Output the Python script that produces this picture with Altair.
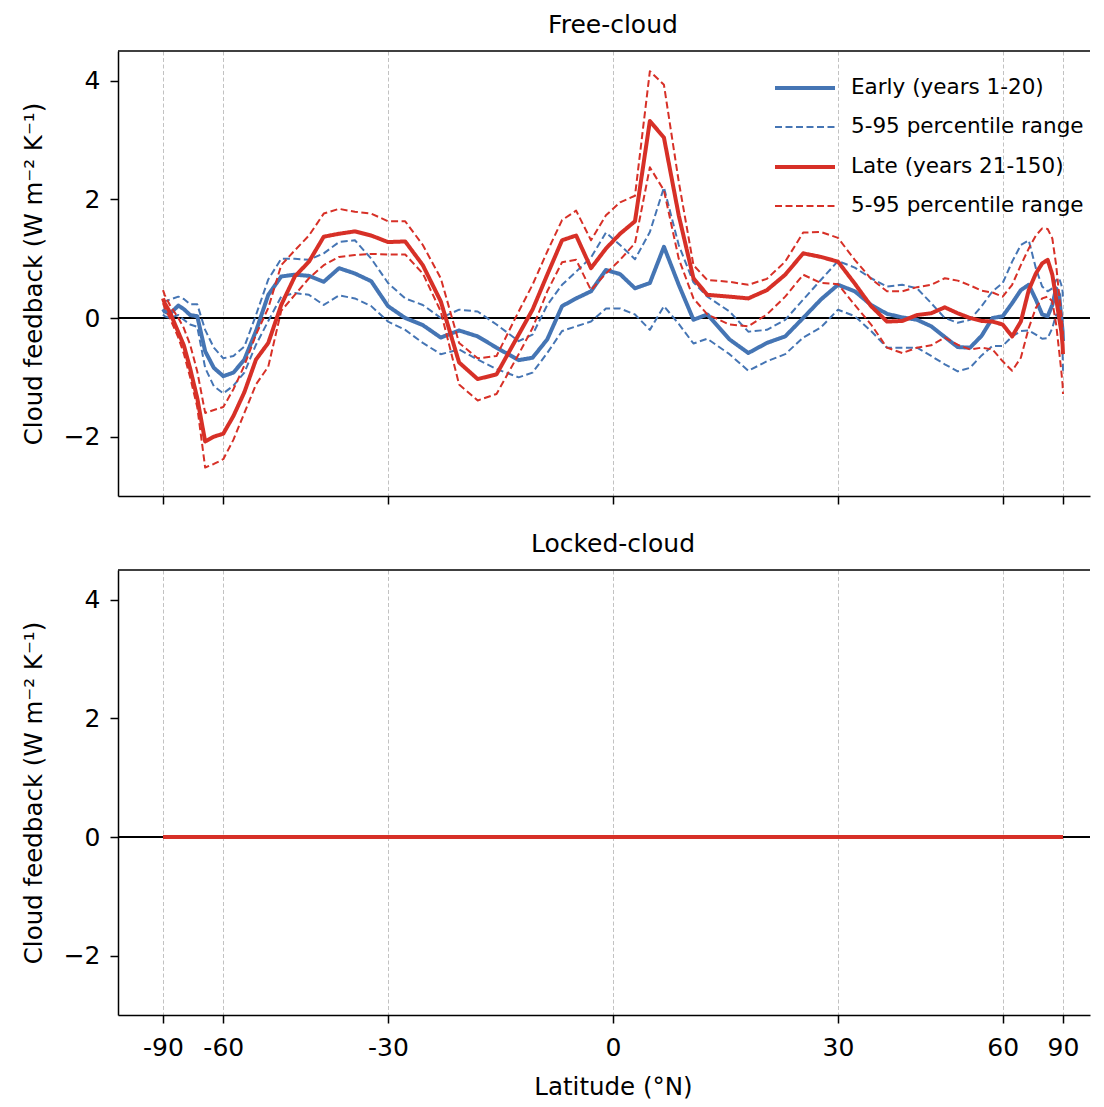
import altair as alt
import numpy as np
import pandas as pd

FONT = "DejaVu Sans"
BLUE = "#4575b4"
RED = "#d73027"

# latitude grid (degrees north)
lat = [-90, -85, -80, -75, -72.5, -70, -67.5, -65, -62.5, -60,
       -57.5, -55, -52.5, -50, -47.5, -45, -42.5, -40, -37.5, -35,
       -32.5, -30, -27.5, -25, -22.5, -20, -17.5, -15, -12.1, -10.3,
       -8.4, -6.5, -4.7, -2.8, -0.9, 0.9, 2.8, 4.7, 6.5, 8.4,
       10.3, 12.1, 15, 17.5, 20, 22.5, 25, 27.5, 30, 32.5,
       35, 37.5, 40, 42.5, 45, 47.5, 50, 52.5, 55, 57.5,
       60, 62.5, 65, 67.5, 70, 72.5, 75, 77.5, 80, 82.5,
       85, 87.5, 90]

# Free-cloud, early (years 1-20)
early_mean = [0.15, 0.11, 0.07, 0.21, 0.15, 0.05, 0.03, -0.56, -0.84, -0.98,
              -0.92, -0.70, -0.22, 0.39, 0.70, 0.73, 0.71, 0.61, 0.84, 0.75,
              0.62, 0.20, 0.00, -0.12, -0.33, -0.21, -0.31, -0.50, -0.71, -0.67,
              -0.36, 0.20, 0.33, 0.45, 0.81, 0.74, 0.50, 0.59, 1.20, 0.56,
              -0.03, 0.06, -0.36, -0.59, -0.42, -0.31, 0.00, 0.31, 0.56, 0.45,
              0.22, 0.07, 0.01, -0.03, -0.14, -0.32, -0.49, -0.50, -0.30, 0.00,
              0.03, 0.25, 0.47, 0.56, 0.31, 0.06, 0.03, 0.22, 0.50, 0.39,
              0.00, -0.22, -0.39]
early_p95 = [0.28, 0.28, 0.31, 0.36, 0.32, 0.23, 0.23, -0.20, -0.50, -0.68,
             -0.64, -0.48, 0.05, 0.65, 1.00, 1.00, 0.98, 1.09, 1.28, 1.31,
             1.00, 0.59, 0.33, 0.22, 0.00, 0.14, 0.11, -0.11, -0.39, -0.28,
             0.22, 0.56, 0.78, 1.02, 1.44, 1.23, 0.99, 1.45, 2.20, 1.23,
             0.60, 0.36, 0.11, -0.23, -0.20, -0.03, 0.31, 0.64, 0.96, 0.85,
             0.67, 0.53, 0.56, 0.50, 0.25, 0.00, -0.08, -0.03, 0.20, 0.45,
             0.59, 0.95, 1.23, 1.31, 0.84, 0.53, 0.45, 0.50, 0.64, 0.67,
             0.56, 0.45, 0.30]
early_p05 = [0.06, 0.03, 0.00, 0.05, -0.03, -0.11, -0.15, -0.84, -1.15, -1.27,
             -1.14, -0.92, -0.45, -0.05, 0.36, 0.42, 0.39, 0.22, 0.38, 0.33,
             0.20, -0.06, -0.20, -0.42, -0.61, -0.53, -0.70, -0.86, -1.00, -0.92,
             -0.59, -0.22, -0.14, -0.06, 0.16, 0.16, 0.06, -0.20, 0.20, -0.10,
             -0.43, -0.35, -0.61, -0.89, -0.73, -0.61, -0.33, -0.16, 0.14, 0.03,
             -0.22, -0.50, -0.50, -0.50, -0.64, -0.78, -0.90, -0.84, -0.63, -0.47,
             -0.47, -0.31, -0.22, -0.21, -0.28, -0.35, -0.34, -0.17, 0.06, 0.00,
             -0.28, -0.56, -0.90]

# Free-cloud, late (years 21-150)
late_mean = [0.33, 0.25, 0.10, -0.24, -0.46, -0.85, -1.35, -2.08, -2.00, -1.95,
             -1.65, -1.25, -0.70, -0.42, 0.22, 0.70, 0.95, 1.37, 1.42, 1.46,
             1.39, 1.28, 1.29, 0.89, 0.28, -0.75, -1.03, -0.95, -0.28, 0.14,
             0.73, 1.31, 1.39, 0.84, 1.17, 1.42, 1.63, 3.32, 3.04, 1.73,
             0.67, 0.39, 0.36, 0.33, 0.47, 0.73, 1.09, 1.03, 0.95, 0.58,
             0.20, -0.06, -0.05, 0.05, 0.08, 0.18, 0.08, 0.00, -0.05, -0.06,
             -0.11, -0.31, -0.06, 0.47, 0.75, 0.92, 0.98, 0.73, 0.33, 0.00,
             -0.22, -0.45, -0.61]
late_p95 = [0.47, 0.39, 0.22, 0.00, -0.17, -0.45, -0.90, -1.60, -1.55, -1.50,
            -1.20, -0.80, -0.28, 0.17, 0.89, 1.14, 1.39, 1.76, 1.84, 1.79,
            1.76, 1.63, 1.63, 1.23, 0.67, -0.42, -0.68, -0.64, 0.11, 0.56,
            1.12, 1.65, 1.81, 1.31, 1.73, 1.95, 2.06, 4.16, 3.93, 2.30,
            0.89, 0.64, 0.61, 0.56, 0.66, 0.95, 1.44, 1.45, 1.35, 0.98,
            0.66, 0.45, 0.45, 0.52, 0.56, 0.67, 0.63, 0.55, 0.46, 0.43,
            0.36, 0.56, 0.89, 1.17, 1.39, 1.51, 1.50, 1.34, 0.89, 0.39,
            0.06, -0.17, -0.28]
late_p05 = [0.25, 0.17, 0.00, -0.33, -0.60, -1.00, -1.50, -2.52, -2.46, -2.38,
            -2.05, -1.60, -1.12, -0.82, 0.12, 0.39, 0.67, 0.89, 1.03, 1.06,
            1.08, 1.07, 1.07, 0.75, 0.11, -1.12, -1.39, -1.28, -0.61, -0.17,
            0.45, 0.94, 0.98, 0.47, 0.75, 0.98, 1.26, 2.54, 2.15, 1.00,
            0.33, 0.06, -0.11, -0.14, 0.06, 0.36, 0.73, 0.59, 0.57, 0.22,
            -0.11, -0.50, -0.59, -0.50, -0.46, -0.33, -0.45, -0.53, -0.50, -0.53,
            -0.73, -0.89, -0.67, -0.17, 0.17, 0.33, 0.36, 0.28, -0.11, -0.56,
            -0.89, -1.12, -1.28]

# Locked-cloud: every curve lies on zero
locked_lat = [-90, -60, -30, 0, 30, 60, 90]
locked_early_mean = [0.0, 0.0, 0.0, 0.0, 0.0, 0.0, 0.0]
locked_early_p05 = [0.0, 0.0, 0.0, 0.0, 0.0, 0.0, 0.0]
locked_early_p95 = [0.0, 0.0, 0.0, 0.0, 0.0, 0.0, 0.0]
locked_late_mean = [0.0, 0.0, 0.0, 0.0, 0.0, 0.0, 0.0]
locked_late_p05 = [0.0, 0.0, 0.0, 0.0, 0.0, 0.0, 0.0]
locked_late_p95 = [0.0, 0.0, 0.0, 0.0, 0.0, 0.0, 0.0]

tick_lats = [-90, -60, -30, 0, 30, 60, 90]

LAB_E = "Early (years 1-20)"
LAB_EP = "5-95 percentile range (early)"
LAB_L = "Late (years 21-150)"
LAB_LP = "5-95 percentile range (late)"
DOMAIN = [LAB_E, LAB_EP, LAB_L, LAB_LP]

Y_DOMAIN = [-3, 4.5]


def frame(lats, label, line_id, values):
    return pd.DataFrame({
        "lat": lats,
        "s": np.sin(np.radians(lats)),
        "value": values,
        "series": label,
        "line": line_id,
    })


tick_s = [float(np.sin(np.radians(t))) for t in tick_lats]

PANEL_W = 972
PANEL_H = 445
X_DOMAIN = [-1.1, -1.1 + PANEL_W / 450.0]


def panel(title, lats, e_mean, e_lo, e_hi, l_mean, l_lo, l_hi, bottom, show_legend):
    if bottom:
        xaxis = alt.Axis(values=tick_s, labelExpr="'' + round(asin(datum.value) * 180 / PI)",
                         title="Latitude (°N)", grid=True, labelOverlap=False, labelFlush=False,
                         labelPadding=12, titlePadding=15, titleX=495)
    else:
        xaxis = alt.Axis(values=tick_s, labels=False, title=None, grid=True)
    X = alt.X("s:Q", scale=alt.Scale(domain=X_DOMAIN, nice=False, zero=False), axis=xaxis)
    Y = alt.Y("value:Q", scale=alt.Scale(domain=Y_DOMAIN, nice=False, zero=False),
              axis=alt.Axis(values=[-2, 0, 2, 4], format="d",
                            title="Cloud feedback (W m⁻² K⁻¹)",
                            grid=False, labelPadding=10, titlePadding=17))
    if show_legend:
        leg = alt.Legend(title=None, orient="none", legendX=675, legendY=25,
                         symbolType="M-3,0H3", symbolSize=400, labelOffset=34,
                         rowPadding=17, labelFontSize=21.5, labelFont=FONT, padding=0,
                         labelLimit=0, labelColor="black",
                         labelExpr="indexof(datum.label, '5-95') == 0 ? '5-95 percentile range' : datum.label")
    else:
        leg = None
    color = alt.Color("series:N", scale=alt.Scale(domain=DOMAIN, range=[BLUE, BLUE, RED, RED]), legend=leg)
    dash = alt.StrokeDash("series:N", scale=alt.Scale(domain=DOMAIN, range=[[1, 0], [7, 3.5], [1, 0], [7, 3.5]]), legend=leg)
    width = alt.StrokeWidth("series:N", scale=alt.Scale(type="ordinal", domain=DOMAIN, range=[4, 2, 4, 2]), legend=leg)

    def lines(df):
        return alt.Chart(df).mark_line(strokeJoin="round").encode(
            x=X, y=Y, color=color, strokeDash=dash, strokeWidth=width, detail="line:N")

    zero = alt.Chart(pd.DataFrame({"v": [0]})).mark_rule(color="black", strokeWidth=1.8).encode(
        y=alt.datum(0))
    # top spine of the panel (the right spine falls outside the figure in the original)
    top_spine = alt.Chart(pd.DataFrame({"v": [0]})).mark_rule(color="black", strokeWidth=1.5).encode(
        y=alt.datum(Y_DOMAIN[1]))
    e_d = pd.concat([frame(lats, LAB_EP, "e_lo", e_lo), frame(lats, LAB_EP, "e_hi", e_hi)])
    l_d = pd.concat([frame(lats, LAB_LP, "l_lo", l_lo), frame(lats, LAB_LP, "l_hi", l_hi)])
    layers = [
        lines(e_d),
        lines(frame(lats, LAB_E, "e_mean", e_mean)),
        lines(l_d),
        lines(frame(lats, LAB_L, "l_mean", l_mean)),
    ]
    return alt.layer(zero, top_spine, *layers).properties(
        width=PANEL_W, height=PANEL_H,
        title=alt.TitleParams(title, fontSize=25, font=FONT, fontWeight="normal", offset=12, dx=9))


top = panel("Free-cloud", lat, early_mean, early_p05, early_p95,
            late_mean, late_p05, late_p95, bottom=False, show_legend=True)
bot = panel("Locked-cloud", locked_lat, locked_early_mean, locked_early_p05, locked_early_p95,
            locked_late_mean, locked_late_p05, locked_late_p95, bottom=True, show_legend=False)

chart = alt.vconcat(top, bot, spacing=27).resolve_scale(
    color="independent", strokeDash="independent", strokeWidth="independent"
).properties(
    padding={"left": 13, "top": 5, "right": 0, "bottom": 0}
).configure_axis(
    labelFont=FONT, titleFont=FONT, labelFontSize=25, titleFontSize=24.5,
    labelColor="black", titleColor="black", titleFontWeight="normal",
    domainColor="black", domainWidth=1.5, tickColor="black", tickWidth=1.5, tickSize=8,
    gridColor="#bbbbbb", gridDash=[4, 2.5], gridWidth=0.9
).configure_view(
    stroke=None
).configure_title(
    font=FONT, fontSize=25, color="black", fontWeight="normal"
)

chart.save("out.html", embed_options={"renderer": "svg", "actions": False})
